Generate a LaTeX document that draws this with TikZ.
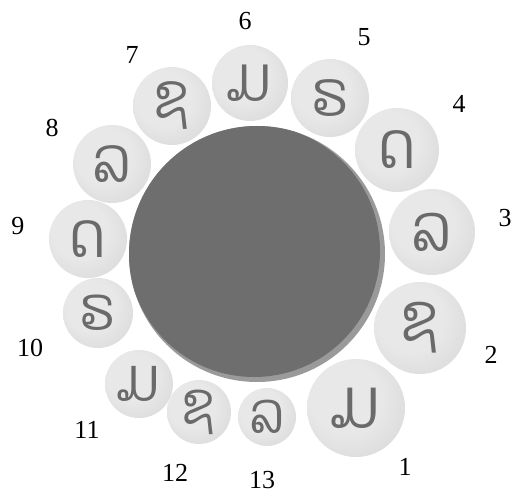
\documentclass[tikz,border=0pt]{standalone}
\usepackage{fontspec}
\setmainfont{Liberation Serif}
\newfontfamily\laofont[Script=Lao,FakeStretch=0.85]{Dhyana}
\definecolor{pillA}{HTML}{E8E8E8}
\definecolor{pillB}{HTML}{D4D4D4}
\definecolor{pillC}{HTML}{ACACAC}
\definecolor{glyph}{HTML}{6A6A6A}
\definecolor{diskrim}{HTML}{9A9A9A}
\definecolor{diskdark}{HTML}{6E6E6E}
\pgfdeclareradialshading{pill}{\pgfpoint{-8bp}{8bp}}{color(0bp)=(pillA); color(18bp)=(pillA); color(40bp)=(pillB); color(50bp)=(pillC)}
\begin{document}
\begin{tikzpicture}[x=1pt,y=-1pt,
  pillnode/.style={circle,inner sep=0pt,shading=pill,text=glyph},
  numlabel/.style={font=\fontsize{26}{26}\selectfont,inner sep=0pt},
  bigdisk/.style={circle,inner sep=0pt,minimum size=256pt,fill=diskrim,
    path picture={\fill[diskdark] ([shift={(-3pt,3pt)}]path picture bounding box.center) circle (126pt);}}]
\useasboundingbox (0,0) rectangle (512,494);
\node[bigdisk] (big) at (257,254) {};
\foreach \i/\x/\y/\r/\t/\lx/\ly in {
  1/356/408/49/ມ/405/467,
  2/420/328/46/ຊ/491/355,
  3/432/232/43/ລ/505/218,
  4/397/150/42/ດ/459/104,
  5/330/98/39/ຣ/364/37,
  6/250/83/38/ມ/245/21,
  7/172/106/39/ຊ/132/55,
  8/112/164/39/ລ/52/128,
  9/88/239/39/ດ/18/226,
  10/98/313/35/ຣ/30/348,
  11/139/384/34/ມ/87/430,
  12/199/412/32/ຊ/175/473,
  13/267/417/29/ລ/262/480}{
  \pgfmathsetmacro\fs{0.6*\r+40}
  \pgfmathsetmacro\d{2*\r}
  \node[pillnode,minimum size=\d pt,font=\laofont\fontsize{\fs}{\fs}\selectfont] (c\i) at (\x,\y) {\t};
  \node[numlabel] (n\i) at (\lx,\ly) {\i};
}
\end{tikzpicture}
\end{document}
